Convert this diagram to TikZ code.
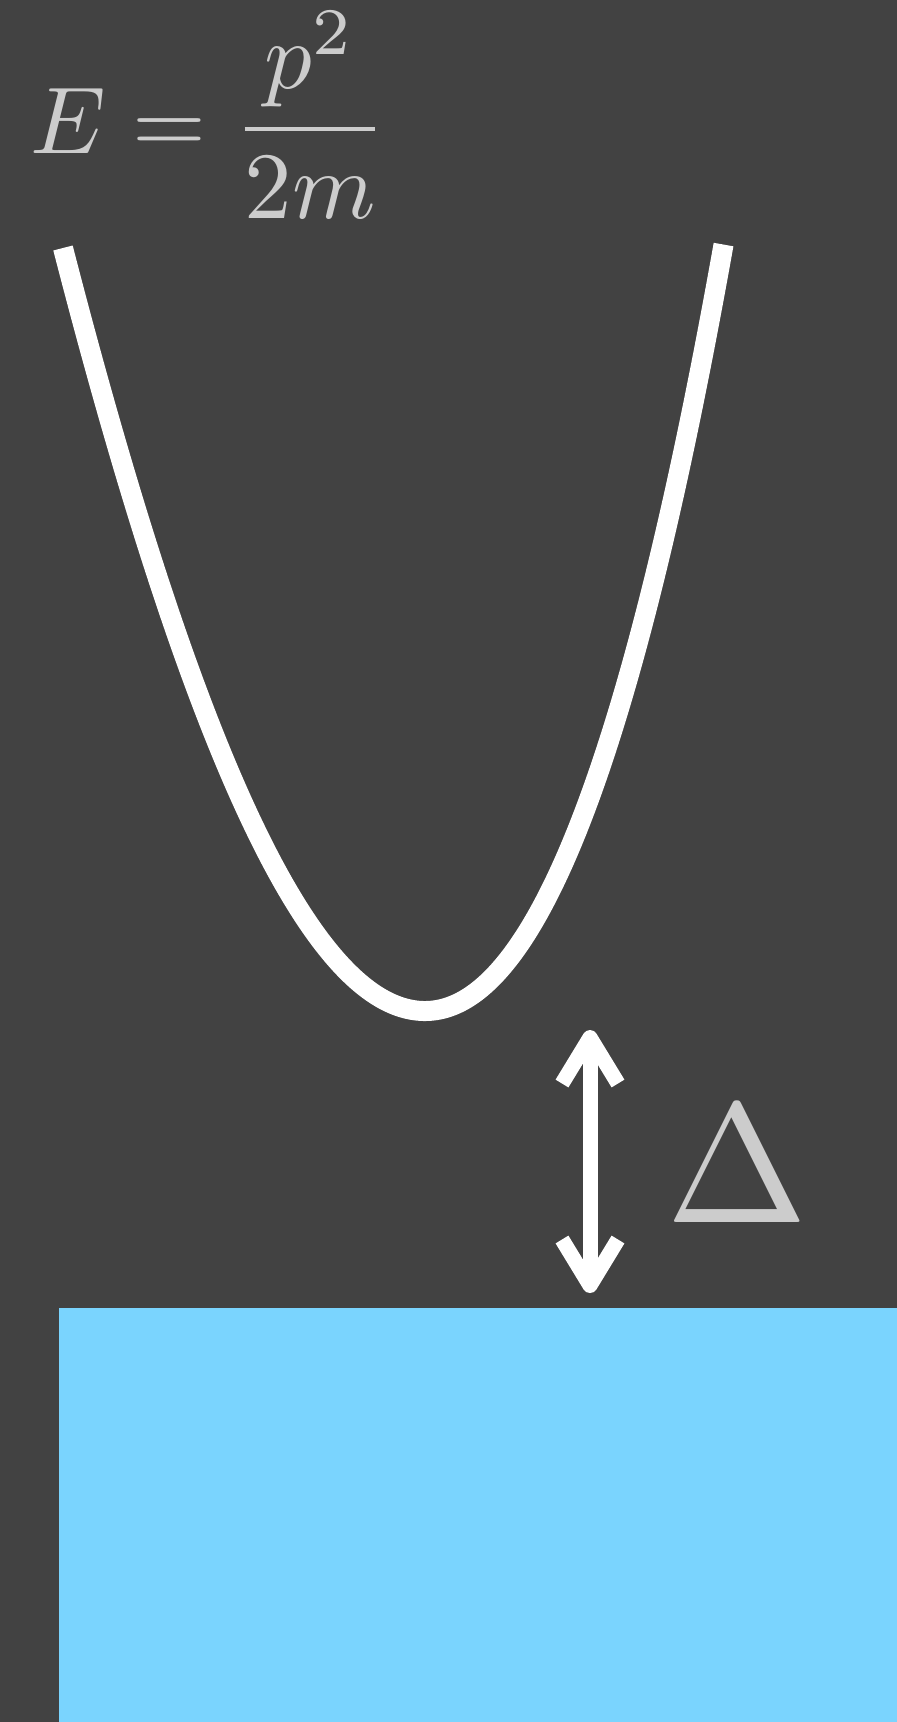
\documentclass[tikz,border=0pt]{standalone}
\usepackage{amsmath}
\usetikzlibrary{arrows.meta}
\definecolor{bgdark}{HTML}{424242}
\definecolor{labelgrey}{HTML}{CCCCCC}
\definecolor{fermisea}{HTML}{7AD4FE}

\tikzset{
  band/.style={white,line width=20pt},
  gaptip/.tip={Straight Barb[length=46pt,width=56pt,line join=round,line cap=butt]},
  gaparrow/.style={white,line width=15pt,{gaptip}-{gaptip}},
  biglabel/.style={labelgrey,inner sep=0pt}
}

\begin{document}
\begin{tikzpicture}[x=1pt,y=-1pt]
  \fill[bgdark] (0,0) rectangle (897,1722);
  \useasboundingbox (0,0) rectangle (897,1722);

  % filled states
  \fill[fermisea] (59,1308) rectangle (897,1722);

  % dispersion, a bit steeper on the right
  \draw[band,domain=-1:1,samples=240]
    plot ({425+(\x<0 ? 362 : 299)*\x},
          {1011-(\x<0 ? 884*\x*\x-121*abs(\x*\x*\x) : 624*\x*\x+145*\x*\x*\x)});

  % gap
  \coordinate (gaptop) at (590,1030);
  \coordinate (gapbot) at (590,1293);
  \draw[gaparrow] (gaptop) -- (gapbot);

  \node[biglabel,scale=9.5,anchor=base west] (disp) at (29,153)
    {$\displaystyle E=\frac{p^2}{2m}$};
  \node[biglabel,scale=17,anchor=base west] (gap) at (663,1222) {$\Delta$};
\end{tikzpicture}
\end{document}
